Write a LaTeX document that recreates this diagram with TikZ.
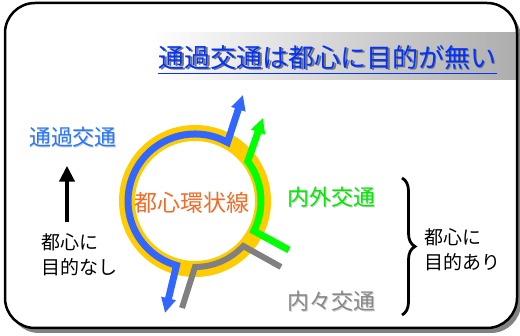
\documentclass[tikz,border=0pt]{standalone}
\usepackage{fontspec}
\setmainfont{Noto Sans CJK JP}
\usetikzlibrary{arrows.meta,decorations.pathreplacing,calc}
\definecolor{ringyellow}{RGB}{255,204,0}
\definecolor{lineblue}{RGB}{51,102,255}
\definecolor{linegreen}{RGB}{0,255,0}
\definecolor{linegray}{RGB}{128,128,128}
\definecolor{ringorange}{RGB}{240,108,40}
\definecolor{titleblue}{RGB}{0,51,255}
\definecolor{labelblue}{RGB}{40,120,255}
\definecolor{labelgreen}{RGB}{0,235,0}
\definecolor{labelgray}{RGB}{136,136,136}
\definecolor{frameshadow}{RGB}{130,130,130}
\tikzset{
  lbl/.style={inner sep=0pt, font=\fontsize{22}{26}\selectfont},
  shd/.style={inner sep=0pt, text=black!22},
  note/.style={inner sep=0pt, align=left, font=\fontsize{19}{25}\selectfont},
  head/.style={-{Triangle[length=15pt,width=14pt]}},
  revhead/.style={{Triangle[length=15pt,width=14pt]}-},
}
\begin{document}
\begin{tikzpicture}[x=1pt,y=1pt]
\useasboundingbox (0,0) rectangle (520,336);
% frame
\fill[frameshadow, rounded corners=30pt] (9,3) rectangle (521,328);
\fill[white, rounded corners=30pt] (5,8) rectangle (517,333);
\shade[left color=white, right color=black!32] (150,256) rectangle (516,303);
\draw[black, line width=2.5pt, rounded corners=30pt] (5,8) rectangle (517,333);
% title
\node[inner sep=0pt, text=black!55, font=\fontsize{26}{30}\selectfont] at (329,277) {通過交通は都心に目的が無い};
\node[inner sep=0pt, text=titleblue, font=\fontsize{26}{30}\selectfont] (title) at (327.5,278.5) {通過交通は都心に目的が無い};
\draw[titleblue, line width=1.4pt] ([yshift=-6pt]title.base west) -- ([yshift=-6pt]title.base east);
% ring
\coordinate (C) at (195,135);
\draw[ringyellow, line width=16pt] (C) circle[radius=68];
\node[inner sep=0pt, text=ringorange, font=\fontsize{23}{27}\selectfont] (ring) at (192,133) {都心環状線};
% blue through traffic
\coordinate (bs) at ([shift={(61:67)}]C);
\coordinate (bupTip) at (243,241);
\coordinate (bdownTip) at (165,23);
\draw[lineblue, line width=7pt, {Triangle[length=15pt,width=14pt]}-{Triangle[length=15pt,width=14pt]}]
  (bupTip) -- (bs) arc[start angle=61, end angle=254, radius=67] -- (bdownTip);
% green in-out traffic
\coordinate (gs) at ([shift={(37:66)}]C);
\coordinate (gTip) at (263,218);
\coordinate (gEnd) at (289,86);
\draw[linegreen, line width=7pt, revhead]
  (gTip) -- (gs) arc[start angle=37, end angle=-27, radius=66] -- (gEnd);
% gray internal traffic
\coordinate (ys) at ([shift={(-90:66)}]C);
\coordinate (yStart) at (182,28);
\coordinate (yEnd) at (281,69);
\draw[linegray, line width=6pt]
  (yStart) -- (ys) arc[start angle=-90, end angle=-43, radius=66] -- (yEnd);
% left labels
\node[lbl, text=black!20] at (74,198) {通過交通};
\node[lbl, text=labelblue] (thru) at (73,199) {通過交通};
\node[inner sep=0pt] (arrTail) at (67,113) {};
\node[inner sep=0pt] (arrTip) at (67,171) {};
\draw[black, line width=4pt, -{Triangle[length=16pt,width=15pt]}] (arrTail) -- (arrTip);
\node[note, anchor=west] (noaim) at (41,81) {都心に\\目的なし};
% right labels
\node[lbl, text=black!20] at (332,138) {内外交通};
\node[lbl, text=labelgreen] (inout) at (331,139) {内外交通};
\node[lbl, text=black!20] at (332,34) {内々交通};
\node[lbl, text=labelgray] (inin) at (331,35) {内々交通};
\coordinate (brTop) at (402,158);
\coordinate (brBot) at (402,21);
\draw[black, line width=2.8pt, decorate, decoration={brace, amplitude=13pt}] (brTop) -- (brBot);
\node[note, anchor=west] (aim) at (424,86.5) {都心に\\目的あり};
\end{tikzpicture}
\end{document}
